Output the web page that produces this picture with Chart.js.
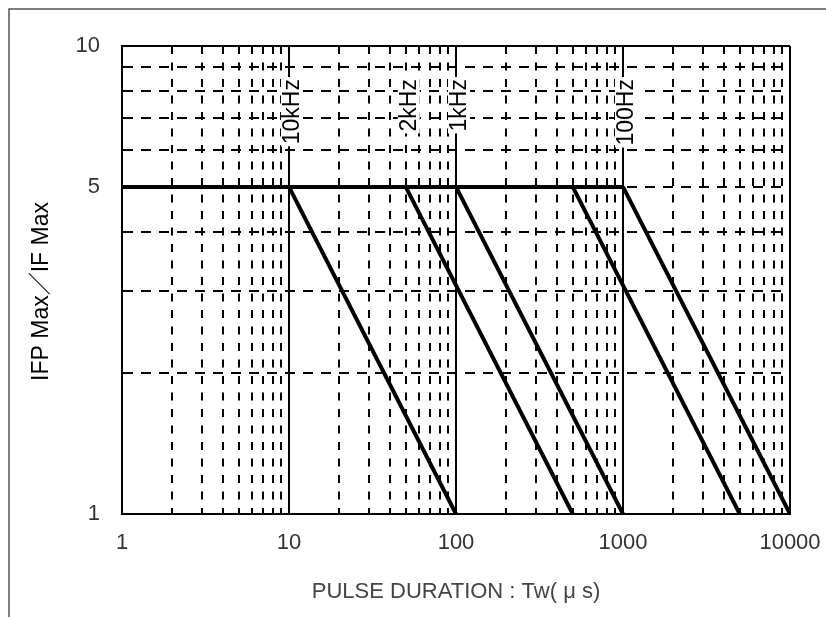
<!DOCTYPE html>
<html>
<head>
<meta charset="utf-8">
<script src="https://cdn.jsdelivr.net/npm/chart.js@4.4.1/dist/chart.umd.min.js"></script>
<style>
  body { margin: 0; background: #fff; }
</style>
</head>
<body>
<canvas id="pulseCanvas" width="826" height="617"></canvas>
<script>
// axis ticks (labelled values)
const xLabels = [1, 10, 100, 1000, 10000];
const yLabels = [1, 5, 10];

// flat limit at 5 up to 1000us
const flatX = [1, 1000];
const flatY = [5, 5];

// derating lines: start at 5, end at 1
const slopeStartX = [10, 50, 100, 500, 1000];
const slopeEndX = [100, 500, 1000, 5000, 10000];
const slopeY = [5, 1];

// frequency notes
const freqNames = ["10kHz", "2kHz", "1kHz", "100Hz"];
const freqX = [10, 50, 100, 1000];
const freqTopY = 8.5;

function decadeTicks(min, max) {
    const out = [];
    for (let d = min; d < max; d *= 10) {
        for (let k = 1; k < 10; k++) out.push(d * k);
    }
    out.push(max);
    return out;
}
const isDecade = v => Math.abs(Math.log10(v) - Math.round(Math.log10(v))) < 1e-9;

const datasets = [{
    data: flatX.map((x, i) => ({x: x, y: flatY[i]}))
}];
slopeStartX.forEach((x0, i) => {
    datasets.push({
        data: [{x: x0, y: slopeY[0]}, {x: slopeEndX[i], y: slopeY[1]}]
    });
});

const tickFont = {family: "'Liberation Sans', Arial, sans-serif", size: 22};

const frame = {
    id: "frame",
    beforeDraw(chart) {
        const c = chart.ctx;
        c.save();
        c.strokeStyle = "#555";
        c.lineWidth = 1.5;
        c.beginPath();
        c.moveTo(9, 617);
        c.lineTo(9, 9);
        c.lineTo(826, 9);
        c.stroke();
        c.restore();
    }
};

const freqNotes = {
    id: "freqNotes",
    afterDatasetsDraw(chart) {
        const c = chart.ctx;
        const xs = chart.scales.x, ys = chart.scales.y;
        c.save();
        c.font = "23px 'Liberation Sans', Arial, sans-serif";
        c.textBaseline = "middle";
        c.textAlign = "right";
        freqNames.forEach((name, i) => {
            const px = xs.getPixelForValue(freqX[i]) + 3;
            const py = ys.getPixelForValue(freqTopY);
            c.save();
            c.translate(px, py);
            c.rotate(-Math.PI / 2);
            const w = c.measureText(name).width;
            c.fillStyle = "#fff";
            c.fillRect(-w - 2, -11, w + 4, 22);
            c.fillStyle = "#000";
            c.fillText(name, 0, 1);
            c.restore();
        });
        c.restore();
    }
};

new Chart(document.getElementById("pulseCanvas"), {
    type: "line",
    data: {datasets: datasets},
    plugins: [frame, freqNotes],
    options: {
        responsive: false,
        animation: false,
        layout: {padding: {top: 46, right: 36, left: 0, bottom: 0}},
        plugins: {legend: {display: false}, tooltip: {enabled: false}},
        elements: {
            line: {borderColor: "#000", borderWidth: 4, tension: 0, borderCapStyle: "butt"},
            point: {radius: 0}
        },
        scales: {
            x: {
                type: "logarithmic",
                min: 1,
                max: 10000,
                afterBuildTicks: s => { s.ticks = decadeTicks(1, 10000).map(v => ({value: v})); },
                afterFit: s => { s.height = 103; s.paddingLeft = 0; s.paddingRight = 0; },
                ticks: {
                    autoSkip: false,
                    maxRotation: 0,
                    padding: 16,
                    color: "#333",
                    font: tickFont,
                    callback: v => xLabels.includes(v) ? String(v) : ""
                },
                grid: {
                    color: "#000",
                    lineWidth: 2,
                    drawTicks: false
                },
                border: {
                    display: true,
                    color: "#000",
                    width: 2,
                    dash: ctx => (ctx.tick && !isDecade(ctx.tick.value)) ? [8, 8.5] : []
                },
                title: {
                    display: true,
                    text: "PULSE DURATION : Tw( \u03bc s)",
                    color: "#444",
                    font: {family: "'Liberation Sans', Arial, sans-serif", size: 22},
                    padding: {top: 0, bottom: 12}
                }
            },
            y: {
                type: "logarithmic",
                min: 1,
                max: 10,
                afterBuildTicks: s => { s.ticks = decadeTicks(1, 10).map(v => ({value: v})); },
                afterFit: s => { s.width = 122; s.paddingTop = 0; s.paddingBottom = 0; },
                ticks: {
                    autoSkip: false,
                    padding: 22,
                    color: "#333",
                    font: tickFont,
                    callback: v => yLabels.includes(v) ? String(v) : ""
                },
                grid: {
                    color: "#000",
                    lineWidth: 2,
                    drawTicks: false
                },
                border: {
                    display: true,
                    color: "#000",
                    width: 2,
                    dash: ctx => (ctx.tick && !isDecade(ctx.tick.value)) ? [10, 8] : []
                },
                title: {
                    display: true,
                    text: "IFP Max\uff0fIF Max\u3000",
                    color: "#000",
                    font: {family: "'Liberation Sans', 'Noto Sans CJK JP', Arial, sans-serif", size: 23},
                    padding: {top: 28, bottom: 0}
                }
            }
        }
    }
});
</script>
</body>
</html>
